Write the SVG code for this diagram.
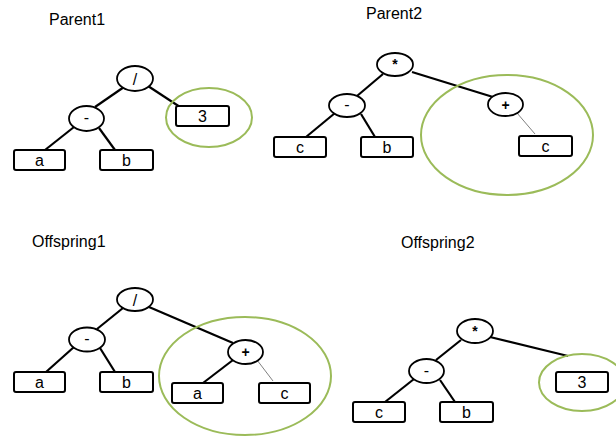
<svg xmlns="http://www.w3.org/2000/svg" width="616" height="437" viewBox="0 0 616 437">
<style>
.bg{fill:#fff}
.op ellipse{fill:#fff;stroke:#000;stroke-width:1.8}
.leaf rect{fill:#fff;stroke:#000;stroke-width:2}
text{font-family:"Liberation Sans",Arial,sans-serif;fill:#000}
.t{font-size:16px}
.n{font-size:16px;text-anchor:middle}
.b{font-weight:bold;font-size:14px}
.e{stroke:#000;stroke-width:2.2;fill:none}
.thin{stroke:#808080;stroke-width:1;fill:none}
.sel{fill:none;stroke:#9BBB59;stroke-width:2}
</style>
<rect class="bg" x="0" y="0" width="616" height="437"/>
<g id="titles">
<text class="t" x="49" y="25">Parent1</text>
<text class="t" x="366" y="19">Parent2</text>
<text class="t" x="32" y="247">Offspring1</text>
<text class="t" x="401" y="248">Offspring2</text>
</g>
<g id="connectors">
<line class="e" x1="124" y1="87" x2="95" y2="107"/>
<line class="e" x1="148" y1="86" x2="180" y2="107"/>
<line class="e" x1="74" y1="127" x2="45" y2="150"/>
<line class="e" x1="99" y1="128" x2="115" y2="150"/>
<line class="e" x1="383" y1="74" x2="357" y2="96"/>
<line class="e" x1="412" y1="72" x2="493" y2="97"/>
<line class="e" x1="335" y1="113" x2="306" y2="137"/>
<line class="e" x1="361" y1="114" x2="375" y2="137"/>
<line class="thin" x1="517" y1="113" x2="535" y2="134"/>
<line class="e" x1="123" y1="308" x2="97" y2="329"/>
<line class="e" x1="149" y1="307" x2="233" y2="343"/>
<line class="e" x1="74" y1="347" x2="46" y2="372"/>
<line class="e" x1="100" y1="348" x2="115" y2="372"/>
<line class="e" x1="233" y1="360" x2="203" y2="383"/>
<line class="thin" x1="257" y1="360" x2="273" y2="381"/>
<line class="e" x1="461" y1="340" x2="436" y2="360"/>
<line class="e" x1="490" y1="337" x2="568" y2="356"/>
<line class="e" x1="414" y1="379" x2="385" y2="402"/>
<line class="e" x1="440" y1="380" x2="455" y2="402"/>
</g>
<g id="p1-div" class="op"><ellipse cx="135" cy="78.5" rx="18" ry="12.5"/><text class="n" x="135" y="84.5">/</text></g>
<g id="p1-minus" class="op"><ellipse cx="86.5" cy="118.5" rx="17.5" ry="12.5"/><text class="n" x="86.5" y="123">-</text></g>
<g id="p1-a" class="leaf"><rect x="14" y="150" width="51" height="20" rx="2"/><text class="n" x="39.5" y="166">a</text></g>
<g id="p1-b" class="leaf"><rect x="100" y="150" width="53" height="20" rx="2"/><text class="n" x="126.5" y="166">b</text></g>
<g id="p1-3" class="leaf"><rect x="176" y="106" width="53" height="20" rx="2"/><text class="n" x="202.5" y="122">3</text></g>
<g id="p1-sel"><ellipse class="sel" cx="209" cy="117.5" rx="43" ry="29.5"/></g>

<g id="p2-mul" class="op"><ellipse cx="395" cy="64.5" rx="18" ry="11.5"/><text class="n b" x="395" y="69">*</text></g>
<g id="p2-minus" class="op"><ellipse cx="347" cy="105.5" rx="18" ry="11.5"/><text class="n" x="347" y="110">-</text></g>
<g id="p2-plus" class="op"><ellipse cx="505.5" cy="104.5" rx="17.5" ry="11.5"/><text class="n b" x="505.5" y="109.5">+</text></g>
<g id="p2-c" class="leaf"><rect x="274" y="137" width="52" height="20" rx="2"/><text class="n" x="300" y="153">c</text></g>
<g id="p2-b" class="leaf"><rect x="361" y="137" width="52" height="20" rx="2"/><text class="n" x="387" y="153">b</text></g>
<g id="p2-c2" class="leaf"><rect x="519" y="136" width="53" height="20" rx="2"/><text class="n" x="545.5" y="152">c</text></g>
<g id="p2-sel"><ellipse class="sel" cx="507" cy="135" rx="86" ry="60"/></g>

<g id="o1-div" class="op"><ellipse cx="135" cy="299.5" rx="18" ry="11.5"/><text class="n" x="135" y="305.5">/</text></g>
<g id="o1-minus" class="op"><ellipse cx="87" cy="339.5" rx="18" ry="12"/><text class="n" x="87" y="344">-</text></g>
<g id="o1-plus" class="op"><ellipse cx="245.5" cy="352" rx="17.5" ry="12"/><text class="n b" x="245.5" y="357">+</text></g>
<g id="o1-a" class="leaf"><rect x="14" y="372" width="51" height="20" rx="2"/><text class="n" x="39.5" y="388">a</text></g>
<g id="o1-b" class="leaf"><rect x="100" y="372" width="53" height="20" rx="2"/><text class="n" x="126.5" y="388">b</text></g>
<g id="o1-a2" class="leaf"><rect x="172" y="383" width="51" height="20" rx="2"/><text class="n" x="197.5" y="399">a</text></g>
<g id="o1-c" class="leaf"><rect x="259" y="383" width="51" height="20" rx="2"/><text class="n" x="284.5" y="399">c</text></g>
<g id="o1-sel"><ellipse class="sel" cx="245" cy="376" rx="86" ry="59"/></g>

<g id="o2-mul" class="op"><ellipse cx="475" cy="331" rx="18" ry="12"/><text class="n b" x="475" y="336">*</text></g>
<g id="o2-minus" class="op"><ellipse cx="426.5" cy="371" rx="17.5" ry="12"/><text class="n" x="426.5" y="375.5">-</text></g>
<g id="o2-3" class="leaf"><rect x="556" y="372" width="52" height="20" rx="2"/><text class="n" x="582" y="388">3</text></g>
<g id="o2-c" class="leaf"><rect x="353" y="402" width="52" height="20" rx="2"/><text class="n" x="379" y="418">c</text></g>
<g id="o2-b" class="leaf"><rect x="440" y="402" width="53" height="20" rx="2"/><text class="n" x="466.5" y="418">b</text></g>
<g id="o2-sel"><ellipse class="sel" cx="582" cy="382.5" rx="43" ry="28.5"/></g>
</svg>
